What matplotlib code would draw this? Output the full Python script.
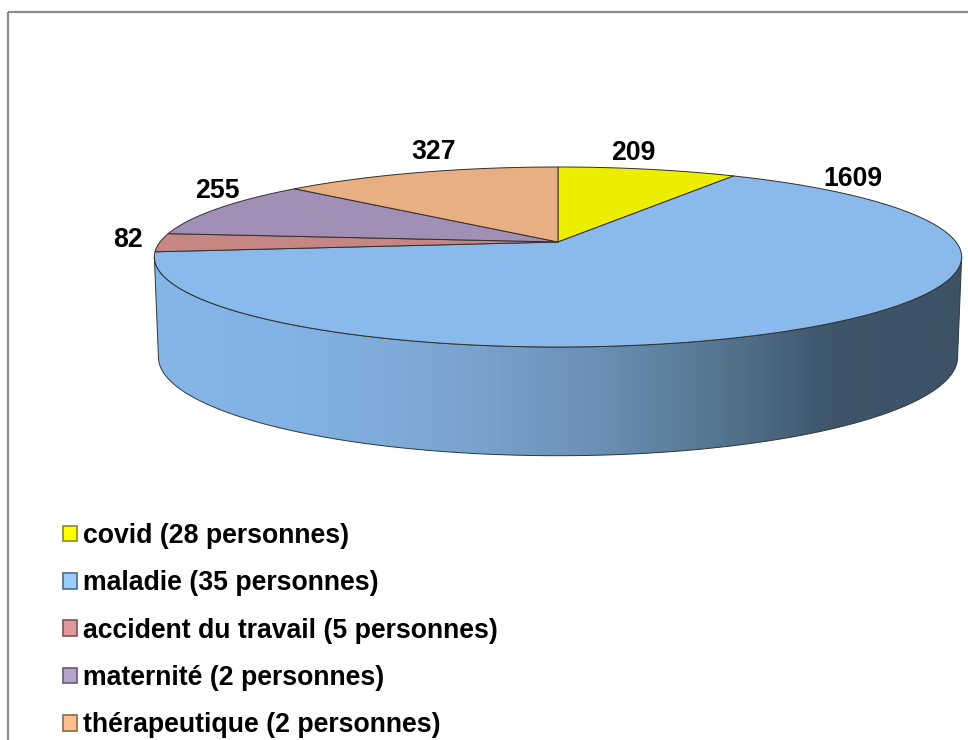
import numpy as np
import matplotlib
matplotlib.use("Agg")
import matplotlib.pyplot as plt
from matplotlib.colors import LinearSegmentedColormap
from matplotlib.patches import Patch, Polygon, Rectangle

# Data
categories = ["covid", "maladie", "accident du travail", "maternité", "thérapeutique"]
persons = [28, 35, 5, 2, 2]
days = [209, 1609, 82, 255, 327]

top_colors = ["#eded00", "#8abaeb", "#c58684", "#a28fb5", "#e8af82"]
legend_colors = ["#ffff00", "#99ccff", "#dd9a98", "#b5a4cb", "#fdc08f"]
legend_edges = ["#8a8a20", "#4f6b88", "#7d5554", "#665a78", "#8c6a4f"]
label_pos = [(633, 153), (853, 179), (128, 240), (217, 191), (434, 152)]

# Pie geometry in pixels: a tilted disc seen in perspective
CX, CY = 558, 242
RX, RY = 398, 87.5
K = 1 / 6
BOTTOM_CY, BOTTOM_RX, BOTTOM_RY = 340.5, 394, 96


def project(theta, cy=CY, rx=RX, ry=RY):
    # theta is measured clockwise from 12 o'clock
    x, y = np.sin(theta), np.cos(theta)
    w = 1 + K * y
    return CX + rx * x / w, cy - ry * y / w


fig = plt.figure(figsize=(9.68, 7.4), dpi=100)
ax = fig.add_axes([0, 0, 1, 1])
ax.set_xlim(0, 968)
ax.set_ylim(740, 0)
ax.axis("off")

# Outer frame, cut off by the right and bottom of the picture
ax.add_patch(Rectangle((8, 12), 1000, 760, fill=False, ec="#8c8c8c", lw=1.6))

# Side wall of the pie, with its horizontal gradient
widest = np.arcsin(K)
front = np.linspace(np.pi / 2 + widest, 3 * np.pi / 2 - widest, 300)
ux, uy = project(front)
lx, ly = project(front, BOTTOM_CY, BOTTOM_RX, BOTTOM_RY)
wall_xy = np.r_[np.c_[ux, uy], np.c_[lx, ly][::-1]]
wall = Polygon(wall_xy, closed=True, fc="none", ec="#2a3642", lw=0.7, zorder=3)
ax.add_patch(wall)
wall_cmap = LinearSegmentedColormap.from_list("wall", [
    (0.00, "#86b6e8"), (0.18, "#82b2e4"), (0.38, "#7ba5d0"), (0.55, "#6a90b5"),
    (0.70, "#557690"), (0.84, "#3e556b"), (1.00, "#3e5266"),
])
img = ax.imshow(np.linspace(0, 1, 512)[None, :], cmap=wall_cmap, aspect="auto",
                extent=(154, 962, 460, 250), zorder=2)
img.set_clip_path(wall)
ax.set_xlim(0, 968)
ax.set_ylim(740, 0)

# Top face, one polygon per value
start = 0.0
total = sum(days)
for value, color in zip(days, top_colors):
    stop = start + 2 * np.pi * value / total
    t = np.linspace(start, stop, 200)
    px, py = project(t)
    ax.add_patch(Polygon(np.r_[[[CX, CY]], np.c_[px, py]], closed=True, fc=color,
                         ec="#30302e", lw=0.7, joinstyle="round", zorder=4))
    start = stop

for value, (x, y) in zip(days, label_pos):
    ax.text(x, y, str(value), ha="center", va="center", family="Liberation Sans",
            fontweight="bold", fontsize=19.2, zorder=5)

handles = [Patch(fc=c, ec=e, lw=1.2) for c, e in zip(legend_colors, legend_edges)]
labels = [f"{c} ({n} personnes)" for c, n in zip(categories, persons)]
ax.legend(handles, labels, loc="upper left", bbox_to_anchor=(63 / 968, 1 - 523 / 740),
          frameon=False, borderpad=0, borderaxespad=0, handlelength=0.52, handleheight=0.52,
          handletextpad=0.22, labelspacing=0.8,
          prop={"family": "Liberation Sans", "weight": "bold", "size": 19.2})

fig.savefig("out.png", dpi=100)
